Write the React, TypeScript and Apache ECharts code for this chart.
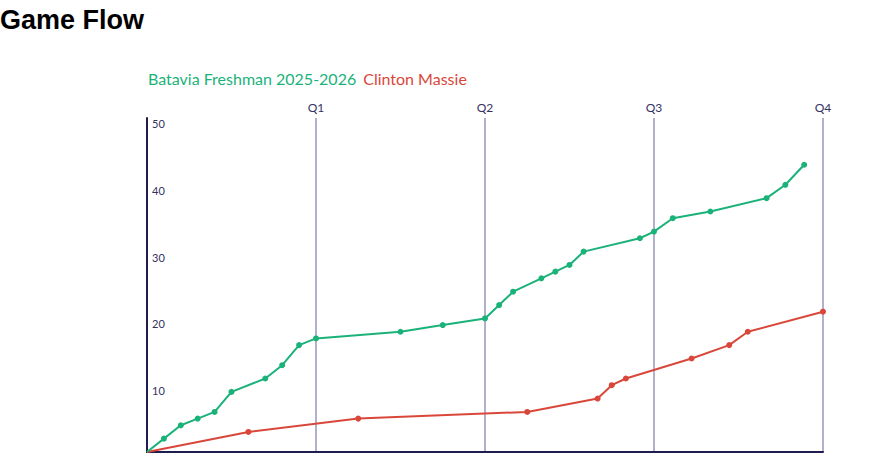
import React, { useEffect, useRef } from "react";
import * as echarts from "echarts";

const teamNames = ["Batavia Freshman 2025-2026", "Clinton Massie"];
const quarterLabels = ["Q1", "Q2", "Q3", "Q4"];
const yTicks = [0, 10, 20, 30, 40, 50];

const bataviaMinutes = [0, 0.8, 1.6, 2.4, 3.2, 4.0, 5.6, 6.4, 7.2, 8.0, 12, 14, 16, 16.67, 17.33, 18.67, 19.33, 20, 20.67, 23.33, 24, 24.89, 26.67, 29.33, 30.22, 31.11];
const bataviaScores = [0, 2, 4, 5, 6, 9, 11, 13, 16, 17, 18, 19, 20, 22, 24, 26, 27, 28, 30, 32, 33, 35, 36, 38, 40, 43];

const clintonMinutes = [0, 4.8, 10, 18, 21.33, 22, 22.67, 25.78, 27.56, 28.44, 32];
const clintonScores = [0, 3, 5, 6, 8, 10, 11, 14, 16, 18, 21];

const GREEN = "#1bb27a";
const RED = "#d9473b";
const NAVY = "#1f1c4f";
const LABEL = "#35325f";
const QLINE = "#9896b8";

function toData(xs: number[], ys: number[]) {
  return xs.map((x, i) =>
    i === 0 ? { value: [x, ys[i]], symbol: "none" } : { value: [x, ys[i]] }
  );
}

export default function App() {
  const ref = useRef<HTMLDivElement>(null);
  useEffect(() => {
    if (!ref.current) return;
    const chart = echarts.init(ref.current, null, { renderer: "svg" });
    chart.setOption({
      animation: false,
      title: {
        text: "Game Flow",
        left: 0,
        top: 6,
        padding: 0,
        textStyle: { fontFamily: "Liberation Sans, Arial", fontWeight: "bold", fontSize: 27, color: "#000" },
      },
      legend: {
        left: 142,
        top: 70,
        padding: 0,
        itemWidth: 0,
        itemHeight: 0,
        itemGap: 1,
        selectedMode: false,
        data: [
          { name: teamNames[0], textStyle: { color: GREEN } },
          { name: teamNames[1], textStyle: { color: RED } },
        ],
        textStyle: { fontFamily: "Lato", fontSize: 16 },
      },
      grid: { left: 147, right: 62, top: 118, bottom: 8, containLabel: false },
      xAxis: [
        {
          type: "value",
          min: 0,
          max: 32,
          interval: 8,
          position: "bottom",
          axisLine: { show: true, lineStyle: { color: NAVY, width: 2 } },
          axisTick: { show: false },
          axisLabel: { show: false },
          splitLine: { show: true, lineStyle: { color: QLINE, width: 1.5 } },
        },
        {
          type: "value",
          min: 0,
          max: 32,
          interval: 8,
          position: "top",
          axisLine: { show: false },
          axisTick: { show: false },
          splitLine: { show: false },
          axisLabel: {
            showMinLabel: false,
            showMaxLabel: true,
            margin: 5,
            color: LABEL,
            fontFamily: "Lato",
            fontSize: 12,
            formatter: (v: number) => (v === 0 ? "" : quarterLabels[v / 8 - 1]),
          },
        },
      ],
      yAxis: {
        type: "value",
        min: yTicks[0],
        max: yTicks[yTicks.length - 1],
        interval: 10,
        axisLine: { show: true, lineStyle: { color: NAVY, width: 2 } },
        axisTick: { show: false },
        splitLine: { show: false },
        axisLabel: {
          inside: true,
          showMinLabel: false,
          verticalAlign: "top",
          margin: 5,
          color: LABEL,
          fontFamily: "Lato",
          fontSize: 11,
        },
      },
      series: [
        {
          name: teamNames[0],
          type: "line",
          xAxisIndex: 0,
          data: toData(bataviaMinutes, bataviaScores),
          symbol: "circle",
          symbolSize: 6,
          color: GREEN,
          lineStyle: { width: 2, color: GREEN },
          itemStyle: { color: GREEN },
          z: 3,
        },
        {
          name: teamNames[1],
          type: "line",
          xAxisIndex: 0,
          data: toData(clintonMinutes, clintonScores),
          symbol: "circle",
          symbolSize: 6,
          color: RED,
          lineStyle: { width: 2, color: RED },
          itemStyle: { color: RED },
          z: 2,
        },
      ],
    });
    return () => chart.dispose();
  }, []);
  return (
    <div
      ref={ref}
      style={{ position: "fixed", left: 0, top: 0, width: 885, height: 460, background: "#fff" }}
    />
  );
}
